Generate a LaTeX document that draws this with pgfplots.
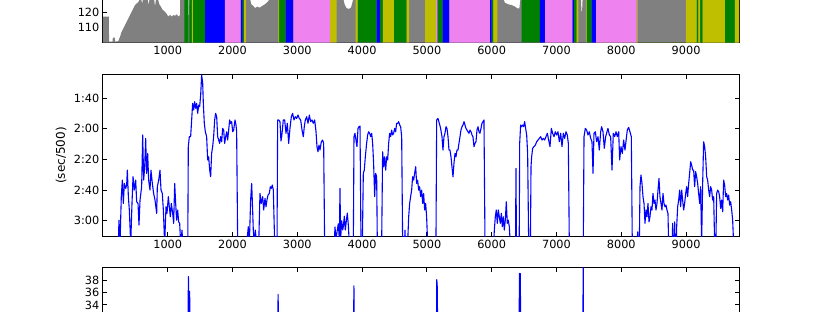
\documentclass[border=0pt]{standalone}
\usepackage{fontspec}
\setmainfont{DejaVu Sans}
\usepackage{pgfplots}
\pgfplotsset{compat=1.18}
\definecolor{zgray}{HTML}{808080}
\definecolor{zyel}{HTML}{BFBF00}
\definecolor{zgreen}{HTML}{008000}
\definecolor{zblue}{HTML}{0000FF}
\definecolor{zviol}{HTML}{EE82EE}
\pgfplotsset{
  base/.style={
    scale only axis, width=636.1pt,
    xmin=0, xmax=9817,
    xtick={1000,2000,...,9000},
    scaled x ticks=false, scaled y ticks=false,
    /pgf/number format/1000 sep={},
    /pgf/number format/assume math mode=true,
    tick align=inside, tick pos=both,
    major tick length=4pt,
    tick style={black, line width=0.8pt},
    axis line style={black, line width=1pt},
    tick label style={font=\fontsize{11.3}{13}\selectfont},
  },
}
\begin{document}
\begin{tikzpicture}
\useasboundingbox (0,0) rectangle (820pt,312pt);
\clip (0,0) rectangle (820pt,312pt);
% ---------- top: heart rate zones ----------
\begin{axis}[base, at={(102.9pt,269.3pt)}, anchor=south west, height=62.94pt,
  ymin=100, ymax=141, ytick={110,120}]
\addplot[draw=none, fill=zgray] table {
0 117
92 117
95 100.7
150 100.7
153 103.3
185 103.3
188 100.7
238 101
265 104
290 107.2
341 111.5
393 115.9
444 120.2
495 124.5
547 126.5
573 128.5
590 128.5
605 125.6
620 128.5
690 128.5
705 124.5
720 128.5
790 128.5
804 123.5
818 128
850 128.5
870 125
895 123.5
920 121.5
950 120.5
980 119
1010 117
1035 118.2
1060 117
1090 118
1113 117.5
1140 118.5
1165 117
1190 118
1198 150
1318 150
1321 118
1332 118
1335 150
2270 150
2272 128.5
2290 125
2320 124
2350 122.5
2380 123.5
2420 122.8
2460 124
2500 125
2540 126.5
2577 128.5
2580 150
3708 150
3711 128.5
3730 125
3760 122.5
3800 122
3830 123
3850 126
3863 128.5
3866 150
6177 150
6180 128.5
6205 126
6257 125
6308 124.5
6360 123.5
6396 122.4
6427 122.4
6444 128.5
6447 150
7373 150
7378 128.5
7386 120
7396 121
7403 128.5
7406 150
9817 150
} \closedcycle;
\addplot[const plot, draw=none, fill=zgreen] coordinates {(1257,200)(1320,100)(1335,200)(1375,100)(1390,200)(1576,100)(2155,200)(2178,100)(2720,200)(2820,100)(3932,200)(4225,100)(4276,200)(4320,100)(4492,200)(4688,100)(5161,200)(5244,100)(6000,200)(6025,100)(6463,200)(6745,100)(7270,200)(7311,100)(7466,200)(7543,100)(9163,200)(9189,100)(9215,200)(9256,100)(9600,200)(9755,100)} \closedcycle;
\addplot[const plot, draw=none, fill=zyel] coordinates {(1375,200)(1390,100)(2178,200)(2208,100)(2707,200)(2720,100)(3505,200)(3608,100)(3901,200)(3932,100)(4320,200)(4492,100)(4688,200)(4724,100)(4971,200)(5140,100)(6025,200)(6087,100)(7311,200)(7337,100)(7455,200)(7466,100)(8238,200)(8252,100)(8998,200)(9163,100)(9189,200)(9215,100)(9256,200)(9600,100)(9755,200)(9817,100)} \closedcycle;
\addplot[const plot, draw=none, fill=zblue] coordinates {(1576,200)(1884,100)(2125,200)(2155,100)(2820,200)(2939,100)(4225,200)(4276,100)(5244,200)(5346,100)(5974,200)(6000,100)(6745,200)(6823,100)(7244,200)(7270,100)(7543,200)(7610,100)} \closedcycle;
\addplot[const plot, draw=none, fill=zviol] coordinates {(1884,200)(2125,100)(2939,200)(3505,100)(5140,200)(5161,100)(5346,200)(5974,100)(6823,200)(7244,100)(7610,200)(8238,100)} \closedcycle;
\end{axis}
% ---------- middle: pace ----------
\begin{axis}[base, at={(102.9pt,237pt)}, anchor=north west, height=161.1pt,
  ymin=85, ymax=190, y dir=reverse,
  ytick={100,120,140,160,180}, yticklabels={1:40,2:00,2:20,2:40,3:00},
  ylabel={(sec/500)},
  every axis y label/.style={at={(rel axis cs:-0.0655,0.5)}, rotate=90, anchor=center, font=\fontsize{12}{14}\selectfont}]
\addplot[zblue, line width=1.1pt, line join=round] table {
230 195
238 195
248 179.6
264 195
284 164.3
300 153.5
315 168.7
331 155.7
351 158.9
367 156.7
377 147
393 164.3
408 173
429 195
449 168.7
465 151.3
485 160
506 153.5
521 167.6
542 168.7
557 182.8
573 166.5
598 157.8
614 124.1
629 153.5
645 144.8
660 126.3
675 149.1
691 136.1
706 153.5
727 160
742 147
763 155.7
783 162.2
804 166.5
830 175.2
840 157.8
861 153.5
881 147
897 160
917 162.2
933 173
953 195
974 170.9
989 175.2
1010 164.3
1025 170.9
1041 177.4
1056 168.7
1077 175.2
1092 181.7
1108 155.7
1123 168.7
1138 179.6
1154 173
1169 180.7
1185 181.7
1200 195
1221 186.1
1231 195
1310 195
1318 131.7
1334 125.2
1354 125.2
1370 114.3
1385 103.5
1401 107.8
1416 102.4
1432 106.7
1447 103.5
1463 110
1478 104.6
1493 105.7
1509 98
1524 85
1540 90.4
1550 103.5
1565 116.5
1581 122
1601 125.2
1617 140.4
1632 138.3
1648 147
1663 151.3
1678 136.1
1694 131.7
1709 125.2
1725 114.3
1740 110
1756 112.2
1771 125.2
1787 127.4
1802 129.6
1817 125.2
1833 128.5
1848 119.8
1864 120.9
1879 129.6
1895 125.2
1910 122
1925 127.4
1941 120.9
1956 114.3
1972 116.5
1987 115.4
2003 122
2018 120.9
2039 114.3
2054 117.6
2064 122
2080 195
2219 195
2244 183.9
2260 195
2280 166.5
2296 155.7
2311 173
2321 186.1
2337 195
2352 186.1
2373 195
2405 195
2424 162.2
2445 168.7
2466 164.3
2481 173
2502 165.4
2517 170.9
2532 166.5
2548 163.3
2568 162.2
2584 157.8
2599 158.9
2615 156.7
2630 160
2651 195
2687 195
2697 114.3
2713 114.3
2733 115.4
2748 128
2760 125
2784 114.3
2805 114.3
2826 123
2846 116.5
2867 129.6
2887 119.8
2908 112.2
2928 110
2949 114.3
2970 112.2
2990 113.3
3011 111.1
3031 113.3
3052 114.3
3073 120.9
3093 125.2
3108 118.7
3124 114.3
3145 112.2
3165 116.5
3186 111.1
3206 115.4
3227 114.3
3247 116.5
3268 114.3
3289 122
3304 131.7
3319 135
3335 130.7
3350 133.9
3371 128.5
3391 127.4
3407 129.6
3422 195
3570 195
3582 184
3597 192
3618 186
3633 182
3649 192
3659 159
3669 192
3685 180
3700 186
3710 184
3726 177
3741 186
3757 180
3772 175
3788 183
3803 195
3865 195
3875 125.2
3890 123
3906 127.4
3921 131.7
3937 119.8
3952 118.7
3968 118.3
3983 195
4004 195
4019 149.1
4034 147
4050 138.3
4070 129.6
4086 124.1
4101 122
4117 123
4132 125.2
4148 123
4163 129.6
4178 142.6
4194 164.3
4209 149.1
4225 151.3
4235 195
4302 195
4317 135
4333 144.8
4348 138.3
4364 147
4379 138.3
4395 140.4
4410 129.6
4425 123
4441 125.2
4456 120.9
4472 124.1
4487 123
4503 119.8
4518 122
4533 116.5
4549 116.5
4564 115.4
4580 117.6
4595 118.7
4611 125.2
4626 195
4655 195
4662 186.1
4670 195
4703 195
4719 177.4
4734 168.7
4749 164.3
4765 160
4780 151.3
4796 153.5
4811 149.1
4827 144.8
4842 155.7
4857 153.5
4873 160
4888 157.8
4904 164.3
4919 160
4935 168.7
4950 162.2
4966 173
4981 168.7
4996 177.4
5012 195
5140 195
5151 114.3
5171 113.3
5192 116.5
5212 119.8
5233 125.2
5248 133.9
5264 125.2
5279 123
5295 118.7
5310 119.8
5326 125.2
5341 133.9
5356 133.9
5372 138.3
5387 144.8
5403 151.3
5418 142.6
5434 136.1
5449 138.3
5464 133.9
5480 133.9
5495 129.6
5511 125.2
5526 120.9
5542 118.7
5557 117.6
5573 115.4
5588 117.6
5603 119.8
5619 120.9
5634 122
5650 123
5665 120.9
5681 122
5696 124.1
5711 125.2
5727 131.7
5742 129.6
5758 128.5
5773 120.9
5789 118.7
5804 122
5819 123
5835 119.8
5850 116.5
5866 115.4
5881 114.3
5897 195
6030 195
6041 186.1
6056 177.4
6071 173
6087 181.7
6102 173
6118 177.4
6133 181.7
6149 175.2
6164 183.9
6180 177.4
6195 186.1
6210 179.6
6226 167.6
6241 181.7
6257 179.6
6272 183.9
6287 195
6368 195
6375 145.9
6382 195
6425 195
6432 129.6
6447 117.6
6462 118.7
6478 117.6
6493 118.7
6509 115.4
6524 119.8
6540 124.1
6555 136.1
6571 195
6598 195
6607 144.8
6617 138.3
6632 132.8
6653 131.7
6674 130.7
6694 128.5
6715 127.4
6735 126.3
6756 125.2
6777 127.4
6797 126.3
6818 127.4
6838 125.2
6859 123
6879 127.4
6900 131.7
6921 119.8
6941 123
6962 125.2
6982 122
7003 124.1
7023 122
7044 128.5
7065 123
7085 131.7
7106 123
7126 126.3
7147 122
7167 124.1
7183 129.6
7198 195
7414 195
7425 125.2
7445 119.8
7466 120.9
7486 124.1
7507 122
7528 126.3
7548 128.5
7564 149.1
7579 123
7600 122
7620 128.5
7641 125.2
7661 133.9
7682 122
7697 118.7
7718 122
7738 132.8
7759 125.2
7780 122
7795 119.8
7816 124.1
7836 125.2
7857 147
7877 123
7898 125.2
7919 122
7939 125.2
7960 122
7975 140.4
7996 131.7
8016 136.1
8037 127.4
8057 133.9
8078 126.3
8093 120.9
8114 119.1
8134 122
8155 125.2
8170 195
8245 195
8253 187.2
8263 195
8279 195
8289 157.8
8304 150.2
8320 155.7
8335 164.3
8351 168.7
8366 181.7
8381 173
8397 177.4
8412 168.7
8428 180.7
8443 177.4
8459 170.9
8474 173
8489 162.2
8505 168.7
8520 166.5
8536 173
8551 168.7
8567 160
8582 152.4
8597 164.3
8613 168.7
8628 173
8644 162.2
8659 168.7
8675 170.9
8690 169.8
8705 173
8721 175.2
8731 195
8785 195
8793 181.7
8801 195
8818 195
8824 180.7
8832 195
8850 195
8855 183.9
8870 170.9
8886 166.5
8901 160
8916 170.9
8932 160
8947 166.5
8963 173
8978 168.7
8994 162.2
9009 157.8
9024 164.3
9040 155.7
9055 149.1
9071 141.5
9086 143.7
9102 147
9117 147
9132 157.8
9148 148
9163 151.3
9179 155.7
9194 162.2
9210 168.7
9225 157.8
9240 195
9256 155.7
9271 128.5
9287 131.7
9302 138.3
9318 151.3
9333 153.5
9349 160
9364 164.3
9379 157.8
9395 160
9410 166.5
9426 164.3
9441 195
9460 195
9472 162.2
9487 160
9503 161.1
9518 164.3
9534 172
9549 166.5
9565 174.1
9580 153.5
9595 156.7
9611 164.3
9626 162.2
9642 166.5
9657 163.3
9673 169.8
9688 167.6
9704 173
9719 179.6
9734 195
9760 195
};
\end{axis}
% ---------- bottom: stroke rate ----------
\begin{axis}[base, at={(102.9pt,44pt)}, anchor=north west, height=123pt,
  ymin=20, ymax=40, ytick={34,36,38}, xticklabels={}]
\addplot[zblue, line width=1.1pt, line join=round] table {
0 18
1300 18
1312 30
1320 38.6
1328 32
1338 36.2
1348 30
1400 28
2080 28
2100 18
2690 18
2698 30
2704 35.7
2711 30
3420 28
3440 18
3862 18
3868 30
3874 37.1
3881 30
3990 28
4000 18
4300 18
4310 28
4620 28
4640 18
5140 18
5147 30
5153 38.1
5160 37
5166 30
5890 28
5910 18
6420 18
6424 30
6428 39.1
6442 39.1
6447 30
7195 28
7215 18
7405 18
7408 30
7412 41
7417 30
8170 28
8190 18
9817 18
};
\end{axis}
\end{tikzpicture}
\end{document}
